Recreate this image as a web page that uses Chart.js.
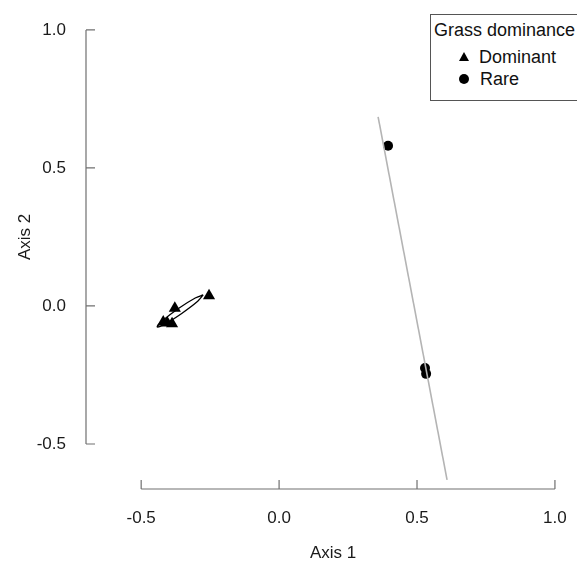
<!DOCTYPE html>
<html>
<head>
<meta charset="utf-8">
<script src="https://cdn.jsdelivr.net/npm/chart.js@4"></script>
<style>
  body { margin: 0; overflow: hidden; background: #fff; font-family: "Liberation Sans", Arial, sans-serif; }
  #wrap { position: relative; width: 577px; height: 562px; overflow: hidden; }
  #legend { position: absolute; left: 430px; top: 14px; width: 170px; height: 85px; border: 1px solid #555; background: #fff; color: #111; font-size: 18px; line-height: 20px; }
  #legend .title { position: absolute; left: 3px; top: 5px; white-space: nowrap; }
  #legend .item { position: absolute; left: 28px; white-space: nowrap; }
  #legend .tri { display: inline-block; width: 0; height: 0; border-left: 5.5px solid transparent; border-right: 5.5px solid transparent; border-bottom: 9px solid #000; margin-right: 10px; vertical-align: 2px; }
  #legend .dot { display: inline-block; width: 10px; height: 10px; border-radius: 50%; background: #000; margin-left: 0; margin-right: 11px; vertical-align: 1px; }
</style>
</head>
<body>
<div id="wrap">
  <canvas id="chart" width="577" height="562"></canvas>
  <div id="legend">
    <div class="title">Grass dominance</div>
    <div class="item" style="top:32px"><span class="tri"></span>Dominant</div>
    <div class="item" style="top:54px"><span class="dot"></span>Rare</div>
  </div>
</div>
<script>
// site scores
const dominantX = [-0.254, -0.378, -0.420, -0.405, -0.388];
const dominantY = [0.037, -0.008, -0.058, -0.062, -0.064];
const rareX = [0.395, 0.529, 0.533];
const rareY = [0.580, -0.225, -0.246];

// dispersion ellipses (outline points)
const dominantEllipseX = [-0.275, -0.295, -0.353, -0.413, -0.442, -0.422, -0.365, -0.304, -0.275];
const dominantEllipseY = [0.040, 0.017, -0.027, -0.065, -0.076, -0.053, -0.009, 0.029, 0.040];
const rareEllipseX = [0.359, 0.609];
const rareEllipseY = [0.685, -0.630];

const axis1Ticks = [-0.5, 0, 0.5, 1.0];
const axis1Labels = ['-0.5', '0.0', '0.5', '1.0'];
const axis2Ticks = [-0.5, 0, 0.5, 1.0];
const axis2Labels = ['-0.5', '0.0', '0.5', '1.0'];

const toPoints = (xs, ys) => xs.map((x, i) => ({ x: x, y: ys[i] }));

const FONT = '"Liberation Sans", Arial, sans-serif';

// R style axes: lines only between first and last tick, ticks pointing inward
const rAxes = {
    id: 'rAxes',
    afterDatasetsDraw(chart) {
        const ctx = chart.ctx;
        const xs = chart.scales.x;
        const ys = chart.scales.y;
        const area = chart.chartArea;
        ctx.save();
        ctx.strokeStyle = '#707070';
        ctx.lineWidth = 1.2;

        // axis 1
        const bottom = area.bottom;
        ctx.beginPath();
        ctx.moveTo(xs.getPixelForValue(axis1Ticks[0]), bottom);
        ctx.lineTo(xs.getPixelForValue(axis1Ticks[axis1Ticks.length - 1]), bottom);
        axis1Ticks.forEach(t => {
            const px = xs.getPixelForValue(t);
            ctx.moveTo(px, bottom);
            ctx.lineTo(px, bottom - 9);
        });
        ctx.stroke();

        // axis 2
        const left = area.left;
        ctx.beginPath();
        ctx.moveTo(left, ys.getPixelForValue(axis2Ticks[0]));
        ctx.lineTo(left, ys.getPixelForValue(axis2Ticks[axis2Ticks.length - 1]));
        axis2Ticks.forEach(t => {
            const py = ys.getPixelForValue(t);
            ctx.moveTo(left, py);
            ctx.lineTo(left + 9, py);
        });
        ctx.stroke();

        ctx.fillStyle = '#1a1a1a';
        ctx.font = '17px ' + FONT;
        ctx.textBaseline = 'middle';
        ctx.textAlign = 'center';
        axis1Ticks.forEach((t, i) => {
            ctx.fillText(axis1Labels[i], xs.getPixelForValue(t), bottom + 29);
        });
        ctx.textAlign = 'right';
        axis2Ticks.forEach((t, i) => {
            ctx.fillText(axis2Labels[i], left - 20, ys.getPixelForValue(t));
        });

        // axis titles
        ctx.textAlign = 'center';
        ctx.fillText('Axis 1', xs.getPixelForValue(0.196), bottom + 64);
        ctx.save();
        ctx.translate(left - 61, ys.getPixelForValue(0.25));
        ctx.rotate(-Math.PI / 2);
        ctx.fillText('Axis 2', 0, 0);
        ctx.restore();
        ctx.restore();
    }
};

new Chart(document.getElementById('chart'), {
    type: 'scatter',
    data: {
        datasets: [
            {
                label: 'Rare ellipse',
                type: 'line',
                data: toPoints(rareEllipseX, rareEllipseY),
                borderColor: '#b4b4b4',
                borderWidth: 1.6,
                pointRadius: 0,
                fill: false,
                order: 0
            },
            {
                label: 'Dominant ellipse',
                type: 'line',
                data: toPoints(dominantEllipseX, dominantEllipseY),
                borderColor: '#000',
                backgroundColor: '#fff',
                borderWidth: 1.3,
                pointRadius: 0,
                tension: 0.3,
                fill: true,
                order: 0
            },
            {
                label: 'Dominant',
                data: toPoints(dominantX, dominantY),
                pointStyle: 'triangle',
                pointRadius: 7,
                backgroundColor: '#000',
                borderColor: '#000',
                borderWidth: 0,
                order: 1
            },
            {
                label: 'Rare',
                data: toPoints(rareX, rareY),
                pointStyle: 'circle',
                pointRadius: 5,
                backgroundColor: '#000',
                borderColor: '#000',
                borderWidth: 0,
                order: 1
            }
        ]
    },
    options: {
        responsive: false,
        animation: false,
        layout: { autoPadding: false, padding: { left: 86, right: 0, top: 10, bottom: 73 } },
        plugins: {
            legend: { display: false },
            tooltip: { enabled: false }
        },
        scales: {
            x: { type: 'linear', min: -0.7, max: 1.08, display: false },
            y: { type: 'linear', min: -0.663, max: 1.072, display: false }
        }
    },
    plugins: [rAxes]
});
</script>
</body>
</html>
